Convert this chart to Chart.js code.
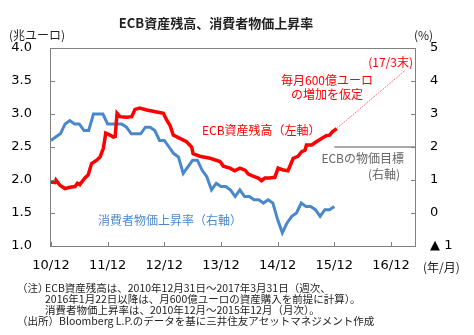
<!DOCTYPE html>
<html>
<head>
<meta charset="utf-8">
<script src="https://cdn.jsdelivr.net/npm/chart.js@4/dist/chart.umd.min.js"></script>
<style>
  html, body { margin: 0; padding: 0; background: #fff; }
  canvas { display: block; }
</style>
</head>
<body>
<canvas class="main-canvas" width="474" height="335"></canvas>
<script>
// months counted from 2010/12
const assetMonths = [0, 0.85, 1.06, 1.9, 2.96, 4.0, 5.1, 5.6, 6.1, 7.2, 7.9, 8.6, 9.7, 10.4, 11.1, 11.6,
  12.5, 13.2, 13.6, 14.0, 14.6, 16.0, 17.1, 17.8, 18.8, 20.3, 22.4, 23.8, 24.5, 25.2, 25.9, 27.3,
  28.7, 29.8, 30.1, 31.5, 33.7, 35.8, 36.5, 37.9, 38.9, 40.0, 41.1, 41.8, 42.8, 43.9, 44.6, 45.3,
  46.3, 47.4, 48.1, 49.2, 50.2, 51.3, 52.3, 53.1, 53.8, 54.1, 55.2, 56.2, 57.3, 58.3, 59.0, 59.6, 60.5];
const assetValues = [1.97, 1.96, 2.0, 1.92, 1.87, 1.89, 1.90, 1.95, 1.93, 2.03, 2.08, 2.25, 2.30, 2.35, 2.48, 2.71,
  2.68, 2.65, 2.66, 3.01, 2.96, 2.95, 2.96, 3.07, 3.09, 3.06, 3.03, 3.01, 2.91, 2.83, 2.68, 2.63,
  2.58, 2.50, 2.40, 2.36, 2.33, 2.28, 2.21, 2.18, 2.14, 2.18, 2.15, 2.09, 2.06, 2.03, 1.99, 2.03,
  2.03, 2.04, 2.18, 2.15, 2.14, 2.33, 2.36, 2.43, 2.45, 2.53, 2.53, 2.58, 2.63, 2.67, 2.68, 2.73, 2.78];

// 60bn/month assumption through end of 17/3
const projMonths = [60.5, 75];
const projValues = [2.78, 3.66];

// HICP y/y, 2010/12 - 2015/12
const cpiValues = [2.2,
  2.3, 2.4, 2.7, 2.8, 2.7, 2.7, 2.5, 2.5, 3.0, 3.0, 3.0, 2.7,
  2.7, 2.7, 2.7, 2.6, 2.4, 2.4, 2.4, 2.6, 2.6, 2.5, 2.2, 2.2,
  2.0, 1.8, 1.7, 1.2, 1.4, 1.6, 1.6, 1.3, 1.1, 0.7, 0.9, 0.8,
  0.8, 0.7, 0.5, 0.7, 0.5, 0.5, 0.4, 0.4, 0.3, 0.4, 0.3, -0.2,
  -0.6, -0.3, -0.1, 0.0, 0.3, 0.2, 0.2, 0.1, -0.1, 0.1, 0.1, 0.2];

const targetMonths = [60, 77.3];
const targetValue = 2;

const xTickMonths = [0, 12, 24, 36, 48, 60, 72];
const xTickLabels = ["10/12", "11/12", "12/12", "13/12", "14/12", "15/12", "16/12"];

const JP = "'Noto Sans CJK JP', sans-serif";
const RED = "#ff0000";
const BLUE = "#4a88cc";

Chart.defaults.font.family = "'DejaVu Sans', sans-serif";
Chart.defaults.font.size = 13;
Chart.defaults.color = "#000";

const frame = {
  id: "frame",
  afterDraw(chart) {
    const { ctx, chartArea: a, scales } = chart;
    ctx.save();

    // box + inward ticks
    ctx.strokeStyle = "#808080";
    ctx.lineWidth = 1;
    ctx.strokeRect(a.left + 0.5, a.top + 0.5, a.right - a.left - 1, a.bottom - a.top);
    ctx.beginPath();
    scales.y.ticks.forEach(t => {
      const py = Math.round(scales.y.getPixelForValue(t.value)) + 0.5;
      ctx.moveTo(a.left, py); ctx.lineTo(a.left + 5, py);
    });
    scales.y1.ticks.forEach(t => {
      const py = Math.round(scales.y1.getPixelForValue(t.value)) + 0.5;
      ctx.moveTo(a.right - 5, py); ctx.lineTo(a.right, py);
    });
    scales.x.ticks.forEach(t => {
      const px = Math.round(scales.x.getPixelForValue(t.value)) + 0.5;
      ctx.moveTo(px, a.bottom); ctx.lineTo(px, a.bottom - 4);
    });
    ctx.stroke();

    ctx.textBaseline = "middle";

    ctx.fillStyle = "#222";
    ctx.textAlign = "center";
    ctx.font = "bold 13px " + JP;
    ctx.fillText("ECB資産残高、消費者物価上昇率", 216, 23);

    ctx.font = "12px " + JP;
    ctx.textAlign = "left";
    ctx.fillText("(兆ユーロ)", 9, 35);
    ctx.fillText("(%)", 414, 35);
    ctx.fillText("(年/月)", 423, 267);

    // series labels
    ctx.fillStyle = RED;
    ctx.textAlign = "right";
    ctx.fillText("(17/3末)", 413, 62);
    ctx.textAlign = "center";
    ctx.fillText("毎月600億ユーロ", 327, 80);
    ctx.fillText("の増加を仮定", 327, 94);
    ctx.textAlign = "left";
    ctx.fillText("ECB資産残高（左軸）", 202, 130);

    ctx.fillStyle = BLUE;
    ctx.fillText("消費者物価上昇率（右軸）", 98, 220);

    ctx.fillStyle = "#666";
    ctx.textAlign = "right";
    ctx.fillText("ECBの物価目標", 404, 158);
    ctx.fillText("(右軸)", 400, 174);

    // notes
    ctx.fillStyle = "#222";
    ctx.textAlign = "left";
    ctx.font = "10.5px " + JP;
    ctx.fillText("（注）", 17, 288);
    ctx.fillText("ECB資産残高は、2010年12月31日～2017年3月31日（週次、", 45, 288);
    ctx.fillText("2016年1月22日以降は、月600億ユーロの資産購入を前提に計算）。", 45, 299);
    ctx.fillText("消費者物価上昇率は、2010年12月～2015年12月（月次）。", 45, 310);
    ctx.fillText("（出所）Bloomberg L.P.のデータを基に三井住友アセットマネジメント作成", 17, 321);

    ctx.restore();
  }
};

const ctx = document.querySelector(".main-canvas").getContext("2d");

new Chart(ctx, {
  type: "line",
  data: {
    datasets: [
      {
        label: "ECB資産残高",
        data: assetMonths.map((m, i) => ({ x: m, y: assetValues[i] })),
        yAxisID: "y",
        borderColor: RED,
        borderWidth: 3.5,
        pointRadius: 0,
        tension: 0,
        order: 0,
      },
      {
        label: "見通し",
        data: projMonths.map((m, i) => ({ x: m, y: projValues[i] })),
        yAxisID: "y",
        borderColor: "rgba(255, 60, 80, 0.7)",
        borderWidth: 1,
        borderDash: [2, 1],
        pointRadius: 0,
        order: 1,
      },
      {
        label: "消費者物価上昇率",
        data: cpiValues.map((v, i) => ({ x: i, y: v })),
        yAxisID: "y1",
        borderColor: BLUE,
        borderWidth: 3,
        pointRadius: 0,
        tension: 0,
        order: 2,
      },
      {
        label: "ECBの物価目標",
        data: targetMonths.map(m => ({ x: m, y: targetValue })),
        yAxisID: "y1",
        borderColor: "#555",
        borderWidth: 1,
        pointRadius: 0,
        order: 3,
      },
    ],
  },
  options: {
    responsive: false,
    animation: false,
    layout: { padding: { top: 48, left: 0, right: 0, bottom: 0 } },
    plugins: {
      legend: { display: false },
      tooltip: { enabled: false },
    },
    scales: {
      x: {
        type: "linear",
        min: -0.2,
        max: 77.3,
        grid: { display: false, drawTicks: false },
        border: { display: false },
        afterBuildTicks: s => { s.ticks = xTickMonths.map(v => ({ value: v })); },
        afterFit: s => { s.height = 89; },
        ticks: {
          padding: 12,
          maxRotation: 0,
          autoSkip: false,
          callback: v => xTickLabels[xTickMonths.indexOf(v)],
        },
      },
      y: {
        position: "left",
        min: 1,
        max: 4,
        grid: { display: false, drawTicks: false },
        border: { display: false },
        afterFit: s => { s.width = 50; },
        ticks: { stepSize: 0.5, padding: 18, callback: v => v.toFixed(1) },
      },
      y1: {
        position: "right",
        min: -1,
        max: 5,
        grid: { display: false, drawTicks: false },
        border: { display: false },
        afterFit: s => { s.width = 58; },
        ticks: { stepSize: 1, padding: 14, callback: v => (v < 0 ? "▲ " + Math.abs(v) : v) },
      },
    },
  },
  plugins: [frame],
});
</script>
</body>
</html>
